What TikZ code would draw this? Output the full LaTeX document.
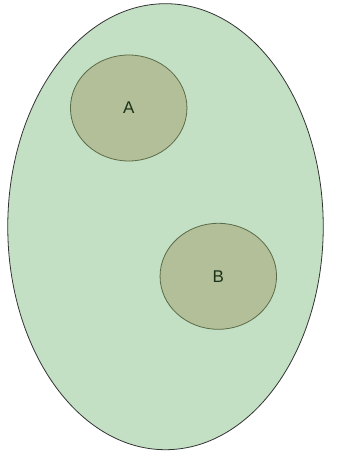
\documentclass[tikz,border=0pt]{standalone}
\usepackage{fontspec}
\setmainfont{Liberation Sans}
\usetikzlibrary{shapes.geometric}
\definecolor{outerfill}{HTML}{C3E0C5}
\definecolor{innerfill}{HTML}{B3BF98}
\definecolor{innerline}{HTML}{5A6B48}
\definecolor{txt}{HTML}{1A3318}
\tikzset{
  outer/.style={ellipse, draw=black!80, line width=0.8pt, fill=outerfill,
    minimum width=315.5pt, minimum height=446pt, inner sep=0pt},
  inner/.style={ellipse, draw=innerline, line width=0.8pt, fill=innerfill,
    minimum width=116.5pt, minimum height=106pt, inner sep=0pt,
    font=\fontsize{17}{17}\selectfont, text=txt}
}
\begin{document}
\begin{tikzpicture}[x=1pt,y=-1pt]
\useasboundingbox (0,0) rectangle (360,462);
\node[outer] (U) at (165.5,226.7) {};
\node[inner] (A) at (128.7,108) {A};
\node[inner] (B) at (218.3,276.3) {B};
\end{tikzpicture}
\end{document}
